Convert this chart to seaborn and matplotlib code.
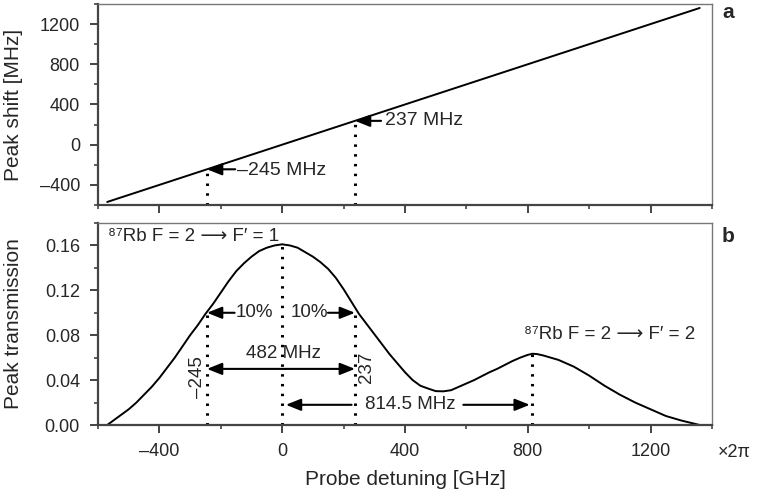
import matplotlib
matplotlib.use("Agg")
import matplotlib.pyplot as plt
from matplotlib.ticker import MultipleLocator, FuncFormatter
import pandas as pd
import seaborn as sns

# ---- panel a: peak shift vs probe detuning ----
shift_detuning = [-570, -245, 237, 1360]
peak_shift = [-570, -245, 237, 1360]

# ---- panel b: peak transmission vs probe detuning ----
trans_detuning = [-570, -550, -525, -500, -475, -450, -425, -400, -375, -350,
                  -325, -300, -275, -250, -225, -200, -175, -150, -125, -100,
                  -75, -50, -25, 0, 25, 50, 75, 100, 125, 150,
                  175, 200, 225, 250, 275, 300, 325, 350, 375, 400,
                  425, 450, 475, 500, 525, 550, 575, 600, 625, 650,
                  675, 700, 725, 750, 775, 800, 815, 830, 850, 875,
                  900, 925, 950, 975, 1000, 1025, 1050, 1075, 1100, 1125,
                  1150, 1175, 1200, 1225, 1250, 1275, 1300, 1330, 1360]
peak_transmission = [0.000, 0.004, 0.009, 0.014, 0.020, 0.027, 0.034, 0.042, 0.051, 0.060,
                     0.070, 0.080, 0.089, 0.099, 0.108, 0.118, 0.128, 0.137, 0.144, 0.150,
                     0.155, 0.158, 0.160, 0.161, 0.160, 0.158, 0.154, 0.150, 0.145, 0.139,
                     0.131, 0.121, 0.110, 0.099, 0.090, 0.081, 0.072, 0.063, 0.055, 0.047,
                     0.040, 0.035, 0.0325, 0.0302, 0.0300, 0.031, 0.034, 0.037, 0.040, 0.0435,
                     0.047, 0.050, 0.0535, 0.057, 0.060, 0.0625, 0.0635, 0.0632, 0.062, 0.060,
                     0.058, 0.055, 0.052, 0.048, 0.044, 0.0395, 0.035, 0.031, 0.027, 0.0235,
                     0.020, 0.017, 0.014, 0.011, 0.008, 0.006, 0.004, 0.002, 0.000]

# marked detunings
edge_detunings = [-245, 237]          # 10% drop points
edge_level = 0.10
main_peak = (0, 0.161)
second_peak = (814.5, 0.0635)
peak_spacing_label = "814.5 MHz"
width_label = "482 MHz"
transition_labels = ["\u2078\u2077Rb F = 2 \u27f6 F\u2032 = 1",
                     "\u2078\u2077Rb F = 2 \u27f6 F\u2032 = 2"]

sns.set_theme(style="ticks")
plt.rcParams["font.family"] = ["Liberation Sans", "DejaVu Sans"]

fig = plt.figure(figsize=(7.58, 4.95), dpi=100)
ax1 = fig.add_axes([0.1293, 0.5859, 0.8100, 0.4061])
ax2 = fig.add_axes([0.1293, 0.1414, 0.8100, 0.4081])

df_a = pd.DataFrame({"detuning": shift_detuning, "shift": peak_shift})
df_b = pd.DataFrame({"detuning": trans_detuning, "trans": peak_transmission})

sns.lineplot(data=df_a, x="detuning", y="shift", ax=ax1, color="black", lw=1.4)
sns.lineplot(data=df_b, x="detuning", y="trans", ax=ax2, color="black", lw=1.4,
             solid_joinstyle="round", solid_capstyle="round")

FS_TICK = 13
FS_LAB = 15
FS_ANN_A = 14
FS_ANN = 13.5


def dash_fmt(decimals):
    def f(v, pos):
        s = f"{v:.{decimals}f}"
        if s.startswith("-"):
            s = "\u2013" + s[1:]
        return s
    return FuncFormatter(f)


for ax in (ax1, ax2):
    ax.set_xlim(-600, 1400)
    ax.xaxis.set_major_locator(MultipleLocator(400))
    ax.xaxis.set_minor_locator(MultipleLocator(200))
    ax.xaxis.set_major_formatter(dash_fmt(0))
    ax.tick_params(which="major", direction="out", length=6, width=1.4,
                   color="#444444", labelsize=FS_TICK, pad=7)
    ax.tick_params(which="minor", direction="out", length=3, width=1.2,
                   color="#444444")
    ax.tick_params(axis="both", which="both", top=False, right=False)
    for side in ("left", "bottom"):
        ax.spines[side].set_color("#444444")
        ax.spines[side].set_linewidth(1.6)
    for side in ("top", "right"):
        ax.spines[side].set_color("#777777")
        ax.spines[side].set_linewidth(1.0)
    ax.set_xlabel("")
    ax.set_ylabel("")

# panel a axes
ax1.set_ylim(-600, 1400)
ax1.yaxis.set_major_locator(MultipleLocator(400))
ax1.yaxis.set_minor_locator(MultipleLocator(200))
ax1.yaxis.set_major_formatter(dash_fmt(0))
ax1.tick_params(axis="x", labelbottom=False)
ax1.set_ylabel("Peak shift [MHz]", fontsize=FS_LAB, va="center")
ax1.yaxis.set_label_coords(-0.137, 0.5)

# panel b axes
ax2.set_ylim(0, 0.18)
ax2.yaxis.set_major_locator(MultipleLocator(0.04))
ax2.yaxis.set_minor_locator(MultipleLocator(0.02))
ax2.yaxis.set_major_formatter(dash_fmt(2))
ax2.set_ylabel("Peak transmission", fontsize=FS_LAB, va="center")
ax2.yaxis.set_label_coords(-0.137, 0.5)
ax2.set_xlabel("Probe detuning [GHz]", fontsize=FS_LAB, va="center")
ax2.xaxis.set_label_coords(0.5, -0.272)
ax2.text(1.01, -0.135, "\u00d72\u03c0", transform=ax2.transAxes,
         fontsize=FS_TICK, ha="left", va="center")

dot_style = dict(color="black", lw=2.2, linestyle=(0, (0.8, 2.4)))
arrow_props = dict(arrowstyle="-|>,head_length=0.75,head_width=0.3",
                   color="black", lw=1.5, shrinkA=0, shrinkB=0,
                   mutation_scale=12)
double_props = dict(arrowstyle="<|-|>,head_length=0.75,head_width=0.3",
                    color="black", lw=1.5, shrinkA=0, shrinkB=0,
                    mutation_scale=12)

# ---- panel a annotations ----
ymin_a = ax1.get_ylim()[0]
for x_mark in edge_detunings:
    ax1.plot([x_mark, x_mark], [ymin_a, x_mark], **dot_style)

ax1.annotate("", xy=(shift_detuning[1], peak_shift[1]),
             xytext=(shift_detuning[1] + 92, peak_shift[1]),
             arrowprops=arrow_props)
ax1.text(shift_detuning[1] + 97, peak_shift[1] - 10,
         "\u2013245 MHz", fontsize=FS_ANN_A, ha="left", va="center")
ax1.annotate("", xy=(shift_detuning[2], peak_shift[2]),
             xytext=(shift_detuning[2] + 85, peak_shift[2]),
             arrowprops=arrow_props)
ax1.text(shift_detuning[2] + 98, peak_shift[2] + 5,
         "237 MHz", fontsize=FS_ANN_A, ha="left", va="center")

# ---- panel b annotations ----
ax2.plot([main_peak[0], main_peak[0]], [0, main_peak[1]], **dot_style)
for x_mark in edge_detunings:
    ax2.plot([x_mark, x_mark], [0, edge_level], **dot_style)
ax2.plot([second_peak[0], second_peak[0]], [0, second_peak[1]], **dot_style)

# 10% arrows
ax2.annotate("", xy=(edge_detunings[0], edge_level),
             xytext=(edge_detunings[0] + 90, edge_level),
             arrowprops=arrow_props)
ax2.text(-91, edge_level, "10%", fontsize=FS_ANN, ha="center", va="center")
ax2.annotate("", xy=(edge_detunings[1], edge_level),
             xytext=(edge_detunings[1] - 88, edge_level),
             arrowprops=arrow_props)
ax2.text(88, edge_level, "10%", fontsize=FS_ANN, ha="center", va="center")

# full width double arrow
ax2.annotate("", xy=(edge_detunings[0], 0.05), xytext=(edge_detunings[1], 0.05),
             arrowprops=double_props)
ax2.text(3, 0.064, width_label, fontsize=FS_ANN, ha="center", va="center")
ax2.text(-276, 0.043, "\u2013245", fontsize=FS_ANN, rotation=90,
         ha="center", va="center")
ax2.text(273, 0.051, "237", fontsize=FS_ANN, rotation=90,
         ha="center", va="center")

# spacing between the two transitions
ax2.annotate("", xy=(main_peak[0] + 12, 0.018), xytext=(226, 0.018),
             arrowprops=arrow_props)
ax2.annotate("", xy=(second_peak[0] - 8, 0.018), xytext=(590, 0.018),
             arrowprops=arrow_props)
ax2.text(416, 0.018, peak_spacing_label, fontsize=FS_ANN, ha="center", va="center")

# transition labels
ax2.text(-569, 0.168, transition_labels[0],
         fontsize=FS_ANN, ha="left", va="center")
ax2.text(787, 0.081, transition_labels[1],
         fontsize=FS_ANN, ha="left", va="center")

# panel letters
fig.text(728 / 758, 1 - 13 / 495, "a", fontsize=FS_LAB, fontweight="bold",
         ha="center", va="center")
fig.text(728 / 758, 1 - 236 / 495, "b", fontsize=FS_LAB, fontweight="bold",
         ha="center", va="center")

fig.savefig("out.png", dpi=100)
